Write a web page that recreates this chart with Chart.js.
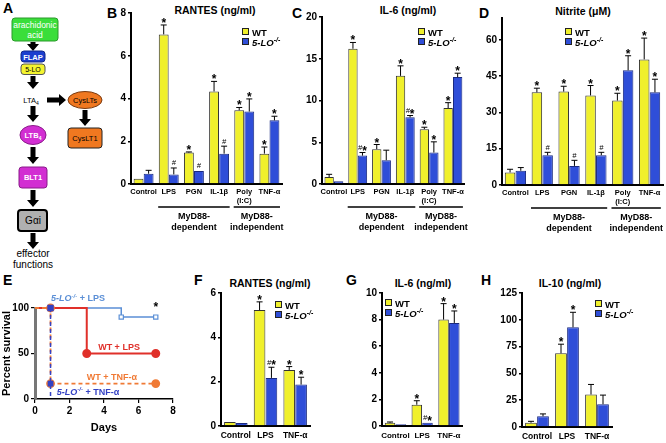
<!DOCTYPE html>
<html>
<head>
<meta charset="utf-8">
<script src="https://cdn.jsdelivr.net/npm/chart.js@4.4.1/dist/chart.umd.min.js"></script>
<style>
  body { margin: 0; background: #fff; }
  #fig { position: relative; width: 666px; height: 443px; overflow: hidden; font-family: "Liberation Sans", Arial, sans-serif; color: #000; }
  #fig canvas, #fig svg, #fig .letter, #fig .ttl { position: absolute; }
  .letter { font-weight: bold; font-size: 14px; line-height: 14px; }
  .ttl { font-weight: bold; font-size: 10.5px; line-height: 12px; width: 120px; text-align: center; white-space: nowrap; }
</style>
</head>
<body>
<div id="fig">
  <svg id="pathway" width="110" height="272" style="left:0;top:0"></svg>

  <div class="letter" style="left:3px;top:1px">A</div>
  <div class="letter" style="left:107px;top:6px">B</div>
  <div class="letter" style="left:292px;top:6px">C</div>
  <div class="letter" style="left:479px;top:6px">D</div>
  <div class="letter" style="left:3px;top:273px">E</div>
  <div class="letter" style="left:194px;top:273px">F</div>
  <div class="letter" style="left:346px;top:273px">G</div>
  <div class="letter" style="left:481px;top:273px">H</div>

  <div class="ttl" style="left:155px;top:4px">RANTES (ng/ml)</div>
  <div class="ttl" style="left:348px;top:4px">IL-6 (ng/ml)</div>
  <div class="ttl" style="left:523px;top:5px">Nitrite (μM)</div>
  <div class="ttl" style="left:210px;top:277px">RANTES (ng/ml)</div>
  <div class="ttl" style="left:363px;top:277px">IL-6 (ng/ml)</div>
  <div class="ttl" style="left:510px;top:277px">IL-10 (ng/ml)</div>

  <canvas id="chartB" width="180" height="242" style="left:105px;top:0"></canvas>
  <canvas id="chartC" width="176" height="242" style="left:292px;top:0"></canvas>
  <canvas id="chartD" width="190" height="242" style="left:476px;top:0"></canvas>
  <canvas id="chartE" width="190" height="181" style="left:0;top:262px"></canvas>
  <canvas id="chartF" width="115" height="158" style="left:200px;top:285px"></canvas>
  <canvas id="chartG" width="114" height="158" style="left:352px;top:285px"></canvas>
  <canvas id="chartH" width="178" height="158" style="left:488px;top:285px"></canvas>
</div>

<script>
// ---- data ----
var seriesNames = ['WT', '5-LO-/-'];

// panels B-D: stimulus categories
var stimCats = ['Control', 'LPS', 'PGN', 'IL-1β', ['Poly', '(I:C)'], 'TNF-α'];
var stimGroupLabels = [['MyD88-', 'dependent'], ['MyD88-', 'independent']];

// B: RANTES (ng/ml)
var rantesWT = [0.25, 7.0, 1.47, 4.33, 3.45, 1.42];
var rantesWTsem = [0, 0.44, 0.03, 0.47, 0.13, 0.31];
var rantesKO = [0.48, 0.45, 0.61, 1.42, 3.39, 2.98];
var rantesKOsem = [0.16, 0.30, 0, 0.35, 0.59, 0.19];
var rantesWTmarks = ['', '*', '*', '*', '*', '*'];
var rantesKOmarks = ['', '#', '#', '#', '*', '*'];

// C: IL-6 (ng/ml)
var il6WT = [0.84, 16.2, 4.17, 12.95, 6.57, 9.1];
var il6WTsem = [0.32, 0.75, 0.56, 1.2, 0.23, 0.64];
var il6KO = [0.32, 3.4, 2.85, 7.98, 3.77, 12.8];
var il6KOsem = [0, 0.37, 1.2, 0.22, 1.28, 0.47];
var il6WTmarks = ['', '*', '*', '*', '*', '*'];
var il6KOmarks = ['', '#*', '', '#*', '*', '*'];

// D: Nitrite (uM)
var nitWT = [5.2, 38.3, 38.6, 37.0, 34.9, 51.9];
var nitWTsem = [1.3, 1.7, 2.2, 4.1, 3.0, 8.8];
var nitKO = [5.9, 12.3, 7.9, 12.3, 47.4, 38.3];
var nitKOsem = [1.3, 1.2, 2.3, 1.2, 6.0, 5.4];
var nitWTmarks = ['', '*', '*', '*', '*', '*'];
var nitKOmarks = ['', '#', '#', '#', '*', '*'];

// E: survival
var survNames = ['5-LO-/- + TNF-α', 'WT + TNF-α', 'WT + LPS', '5-LO-/- + LPS'];
var koTnfDays = [0.9, 0.9, 0.9];
var koTnfSurv = [100, 17, 0];
var wtTnfDays = [0, 0.9, 0.9, 7];
var wtTnfSurv = [100, 100, 17, 17];
var wtLpsDays = [0, 3, 7];
var wtLpsSurv = [100, 50, 50];
var koLpsDays = [0.9, 5, 7];
var koLpsSurv = [100, 90, 90];

// F-H: in vivo
var vivoCats = ['Control', 'LPS', 'TNF-α'];
var fRantesWT = [0.18, 5.23, 2.53];
var fRantesWTsem = [0, 0.37, 0.15];
var fRantesKO = [0.14, 2.17, 1.87];
var fRantesKOsem = [0, 0.48, 0.33];
var fRantesWTmarks = ['', '*', '*'];
var fRantesKOmarks = ['', '#*', '*'];

var gIl6WT = [0.25, 1.6, 8.0];
var gIl6WTsem = [0.05, 0.3, 1.2];
var gIl6KO = [0.13, 0.25, 7.75];
var gIl6KOsem = [0, 0, 0.9];
var gIl6WTmarks = ['', '*', '*'];
var gIl6KOmarks = ['', '#*', '*'];

var hIl10WT = [4, 68.75, 30.3];
var hIl10WTsem = [1.3, 8.5, 9.4];
var hIl10KO = [10, 93, 21.25];
var hIl10KOsem = [2.2, 14, 8.5];
var hIl10WTmarks = ['', '*', ''];
var hIl10KOmarks = ['', '*', ''];

// ---- styles ----
var FONT = '"Liberation Sans", Arial, sans-serif';
var WT_COLOR = '#f0f02c';
var KO_COLOR = '#2f4ed8';
var survColors = ['#3442c4', '#f07a35', '#e0302a', '#5b8fd6'];

// split "5-LO-/- + LPS" into italic name, superscript and rest
function richParts(str, size, weight) {
  var w = weight || 'bold';
  var k = str.indexOf('-/-');
  if (k < 0) return [[str, w + ' ' + size + 'px ' + FONT, 0]];
  return [
    [str.slice(0, k), 'italic ' + w + ' ' + size + 'px ' + FONT, 0],
    ['-/-', 'italic ' + w + ' ' + Math.round(size * 0.7) + 'px ' + FONT, -size * 0.4],
    [str.slice(k + 3), w + ' ' + size + 'px ' + FONT, 0]
  ];
}

function drawRich(ctx, parts, x, y, center) {
  var total = 0;
  ctx.textAlign = 'left';
  parts.forEach(function(p) { ctx.font = p[1]; total += ctx.measureText(p[0]).width; });
  var cx = center ? x - total / 2 : x;
  parts.forEach(function(p) {
    ctx.font = p[1];
    ctx.fillText(p[0], cx, y + p[2]);
    cx += ctx.measureText(p[0]).width;
  });
}

// error bars (upper only) and significance marks
var errorBars = {
  id: 'errorBars',
  afterDatasetsDraw: function(chart) {
    var ctx = chart.ctx, ys = chart.scales.y;
    chart.data.datasets.forEach(function(ds, i) {
      var meta = chart.getDatasetMeta(i);
      meta.data.forEach(function(bar, j) {
        var err = ds.errors[j] || 0;
        var yt = ys.getPixelForValue(ds.data[j] + err);
        ctx.save();
        ctx.strokeStyle = '#000';
        ctx.lineWidth = 1;
        if (err) {
          ctx.beginPath();
          ctx.moveTo(bar.x, bar.y);
          ctx.lineTo(bar.x, yt);
          ctx.moveTo(bar.x - 3, yt);
          ctx.lineTo(bar.x + 3, yt);
          ctx.stroke();
        }
        var m = ds.marks[j];
        if (m) {
          ctx.fillStyle = '#000';
          ctx.textBaseline = 'alphabetic';
          var parts = m.split('').map(function(c) {
            return c === '#' ? [c, 'italic 7.5px ' + FONT, -1.5] : [c, 'bold 12px ' + FONT, 3];
          });
          drawRich(ctx, parts, bar.x, yt - 1, true);
        }
        ctx.restore();
      });
    });
  }
};

// legend and group brackets
var panelDeco = {
  id: 'panelDeco',
  afterDraw: function(chart, args, opts) {
    var ctx = chart.ctx, a = chart.chartArea, xs = chart.scales.x;
    ctx.save();
    if (opts.legend) {
      var lx = a.left + opts.legend.x, ly = a.top + opts.legend.y;
      chart.data.datasets.forEach(function(ds, i) {
        var yy = ly + i * 10;
        ctx.fillStyle = ds.backgroundColor;
        ctx.fillRect(lx, yy, 7, 7);
        ctx.strokeStyle = '#222';
        ctx.lineWidth = 1;
        ctx.strokeRect(lx + 0.5, yy + 0.5, 6, 6);
        ctx.fillStyle = '#000';
        ctx.textBaseline = 'alphabetic';
        drawRich(ctx, richParts(ds.label, 9.5), lx + 10, yy + 7.5, false);
      });
    }
    if (opts.groups) {
      var half = (xs.getPixelForValue(1) - xs.getPixelForValue(0)) * 0.42;
      opts.groups.forEach(function(g) {
        var x1 = xs.getPixelForValue(g.from) - half;
        var x2 = xs.getPixelForValue(g.to) + half;
        var yl = a.bottom + 23;
        ctx.strokeStyle = '#000';
        ctx.lineWidth = 1.5;
        ctx.beginPath();
        ctx.moveTo(x1, yl);
        ctx.lineTo(x2, yl);
        ctx.stroke();
        ctx.fillStyle = '#000';
        ctx.font = 'bold 9px ' + FONT;
        ctx.textAlign = 'center';
        ctx.textBaseline = 'middle';
        g.label.forEach(function(t, k) {
          ctx.fillText(t, (x1 + x2) / 2, yl + 10 + k * 11);
        });
      });
    }
    ctx.restore();
  }
};

function makeBars(id, cats, wt, wtSem, wtMarks, ko, koSem, koMarks, cfg) {
  var tickFont = { family: FONT, weight: 'bold', size: cfg.xFont, lineHeight: 1.15 };
  return new Chart(document.getElementById(id), {
    type: 'bar',
    data: {
      labels: cats,
      datasets: [
        { label: seriesNames[0], data: wt, errors: wtSem, marks: wtMarks,
          backgroundColor: WT_COLOR, borderColor: '#333', borderWidth: 1,
          categoryPercentage: 0.8, barPercentage: 0.98 },
        { label: seriesNames[1], data: ko, errors: koSem, marks: koMarks,
          backgroundColor: KO_COLOR, borderColor: '#1a2a80', borderWidth: 1,
          categoryPercentage: 0.8, barPercentage: 0.98 }
      ]
    },
    options: {
      responsive: false,
      animation: false,
      devicePixelRatio: 1,
      layout: { padding: cfg.pad },
      plugins: {
        legend: { display: false },
        tooltip: { enabled: false },
        panelDeco: { legend: cfg.legend, groups: cfg.groups }
      },
      scales: {
        x: {
          grid: { display: false, drawTicks: false, tickLength: 0 },
          border: { color: '#000', width: 2 },
          ticks: { font: tickFont, color: '#000', padding: cfg.xPad, maxRotation: 0, autoSkip: false },
          afterFit: function(s) { s.height = cfg.xh; }
        },
        y: {
          min: 0,
          max: cfg.max,
          ticks: {
            stepSize: cfg.step,
            font: { family: FONT, weight: 'bold', size: 10 },
            color: '#000',
            padding: 2,
            callback: function(v) { return v % cfg.step === 0 ? v : null; }
          },
          grid: { drawOnChartArea: false, tickLength: 3, color: '#000', lineWidth: 1.5 },
          border: { color: '#000', width: 2 },
          afterFit: function(s) { s.width = cfg.yw; }
        }
      }
    },
    plugins: [errorBars, panelDeco]
  });
}

var stimGroups = [
  { from: 1, to: 3, label: stimGroupLabels[0] },
  { from: 4, to: 5, label: stimGroupLabels[1] }
];

makeBars('chartB', stimCats, rantesWT, rantesWTsem, rantesWTmarks, rantesKO, rantesKOsem, rantesKOmarks,
  { max: 8, step: 2, yw: 26, xh: 58, xFont: 7.5, xPad: 4, pad: { top: 13, right: 3, left: 0, bottom: 0 },
    legend: { x: 111, y: 15 }, groups: stimGroups });

makeBars('chartC', stimCats, il6WT, il6WTsem, il6WTmarks, il6KO, il6KOsem, il6KOmarks,
  { max: 20, step: 5, yw: 30, xh: 58, xFont: 7.5, xPad: 4, pad: { top: 17, right: 3, left: 0, bottom: 0 },
    legend: { x: 96, y: 11 }, groups: stimGroups });

makeBars('chartD', stimCats, nitWT, nitWTsem, nitWTmarks, nitKO, nitKOsem, nitKOmarks,
  { max: 69, step: 15, yw: 26, xh: 57, xFont: 7.5, xPad: 4, pad: { top: 18, right: 3, left: 0, bottom: 0 },
    legend: { x: 63, y: 10 }, groups: stimGroups });

makeBars('chartF', vivoCats, fRantesWT, fRantesWTsem, fRantesWTmarks, fRantesKO, fRantesKOsem, fRantesKOmarks,
  { max: 6, step: 2, yw: 21, xh: 17, xFont: 8.5, xPad: 5, pad: { top: 7, right: 5, left: 0, bottom: 0 },
    legend: { x: 54, y: 8 } });

makeBars('chartG', vivoCats, gIl6WT, gIl6WTsem, gIl6WTmarks, gIl6KO, gIl6KOsem, gIl6KOmarks,
  { max: 10, step: 2, yw: 30, xh: 17, xFont: 8, xPad: 5, pad: { top: 8, right: 3, left: 0, bottom: 0 },
    legend: { x: 3, y: 6 } });

makeBars('chartH', vivoCats, hIl10WT, hIl10WTsem, hIl10WTmarks, hIl10KO, hIl10KOsem, hIl10KOmarks,
  { max: 125, step: 25, yw: 34, xh: 16, xFont: 8.5, xPad: 5, pad: { top: 8, right: 54, left: 0, bottom: 0 },
    legend: { x: 73, y: 7 } });

// ---- E: survival ----
function toPoints(days, surv) {
  return days.map(function(d, i) { return { x: d, y: surv[i] }; });
}

var survLabels = {
  id: 'survLabels',
  afterDatasetsDraw: function(chart, args, opts) {
    var ctx = chart.ctx, xs = chart.scales.x, ys = chart.scales.y;
    ctx.save();
    ctx.textBaseline = 'alphabetic';
    opts.items.forEach(function(it) {
      ctx.fillStyle = it.color;
      drawRich(ctx, richParts(it.text, it.size || 9), xs.getPixelForValue(it.x), ys.getPixelForValue(it.y), true);
    });
    ctx.restore();
  }
};

new Chart(document.getElementById('chartE'), {
  type: 'line',
  data: {
    datasets: [
      { label: survNames[0], data: toPoints(koTnfDays, koTnfSurv), stepped: 'before', clip: false,
        borderColor: survColors[0], borderWidth: 1.5, borderDash: [4, 3],
        pointStyle: 'rect', pointRadius: [3.5, 3, 0],
        pointBackgroundColor: survColors[0], pointBorderColor: survColors[0] },
      { label: survNames[1], data: toPoints(wtTnfDays, wtTnfSurv), stepped: 'before', clip: false,
        borderColor: survColors[1], borderWidth: 1.8, borderDash: [4, 3],
        pointStyle: 'circle', pointRadius: [0, 3.5, 3.5, 3.5],
        pointBackgroundColor: survColors[1], pointBorderColor: survColors[1] },
      { label: survNames[2], data: toPoints(wtLpsDays, wtLpsSurv), stepped: 'before', clip: false,
        borderColor: survColors[2], borderWidth: 2,
        pointStyle: 'circle', pointRadius: [0, 3.5, 3.5],
        pointBackgroundColor: survColors[2], pointBorderColor: survColors[2] },
      { label: survNames[3], data: toPoints(koLpsDays, koLpsSurv), stepped: 'before', clip: false,
        borderColor: survColors[3], borderWidth: 1.5,
        pointStyle: 'rect', pointRadius: [0, 3, 3], pointBorderWidth: 1.2,
        pointBackgroundColor: '#fff', pointBorderColor: survColors[3] }
    ]
  },
  options: {
    responsive: false,
    animation: false,
    devicePixelRatio: 1,
    layout: { padding: { top: 46, right: 17, left: 0, bottom: 8 } },
    plugins: {
      legend: { display: false },
      tooltip: { enabled: false },
      survLabels: {
        items: [
          { text: survNames[3], x: 2.49, y: 107.5, color: survColors[3] },
          { text: '*', x: 7, y: 97, color: '#000', size: 12 },
          { text: survNames[2], x: 4.87, y: 54, color: survColors[2] },
          { text: survNames[1], x: 4.46, y: 21, color: survColors[1] },
          { text: survNames[0], x: 3.07, y: 4.4, color: survColors[0] }
        ]
      }
    },
    scales: {
      x: {
        type: 'linear', min: 0, max: 8,
        ticks: { stepSize: 2, font: { family: FONT, weight: 'bold', size: 10 }, color: '#000', padding: 2 },
        grid: { drawOnChartArea: false, tickLength: 4, color: '#000', lineWidth: 1.2 },
        border: { color: '#000', width: 1.5 },
        title: { display: true, text: 'Days', font: { family: FONT, weight: 'bold', size: 11 }, color: '#000', padding: 0 },
        afterFit: function(s) { s.height = 36; }
      },
      y: {
        min: 0, max: 100,
        ticks: { stepSize: 50, font: { family: FONT, weight: 'bold', size: 10 }, color: '#000', padding: 2 },
        grid: { drawOnChartArea: false, tickLength: 4, color: '#000', lineWidth: 1.2 },
        border: { color: '#777', width: 3 },
        title: { display: true, text: 'Percent survival', font: { family: FONT, weight: 'bold', size: 11 }, color: '#000', padding: 0 },
        afterFit: function(s) { s.width = 35; }
      }
    }
  },
  plugins: [survLabels]
});

// ---- A: pathway diagram ----
(function() {
  var svg = document.getElementById('pathway');
  var html = '';
  function arrowDown(x, y1, y2) {
    var p = [[x - 2.5, y1], [x + 2.5, y1], [x + 2.5, y2 - 7], [x + 6, y2 - 7], [x, y2], [x - 6, y2 - 7], [x - 2.5, y2 - 7]];
    html += '<polygon fill="#000" points="' + p.map(function(q) { return q.join(','); }).join(' ') + '"/>';
  }
  function arrowRight(x1, x2, y) {
    var p = [[x1, y - 2.5], [x2 - 7, y - 2.5], [x2 - 7, y - 6], [x2, y], [x2 - 7, y + 6], [x2 - 7, y + 2.5], [x1, y + 2.5]];
    html += '<polygon fill="#000" points="' + p.map(function(q) { return q.join(','); }).join(' ') + '"/>';
  }
  function box(x, y, w, h, fill, stroke, sw) {
    html += '<rect x="' + x + '" y="' + y + '" width="' + w + '" height="' + h + '" rx="3" fill="' + fill + '" stroke="' + stroke + '" stroke-width="' + (sw || 1) + '"/>';
  }
  function txt(x, y, s, size, color, weight) {
    html += '<text x="' + x + '" y="' + y + '" text-anchor="middle" font-family="Liberation Sans, Arial, sans-serif" font-size="' + size + '" font-weight="' + (weight || 'normal') + '" fill="' + color + '">' + s + '</text>';
  }
  box(12, 18, 46, 23, '#3ade3a', '#2a9a2a');
  txt(35, 28, 'arachidonic', 8.5, '#fff');
  txt(35, 38, 'acid', 8.5, '#fff');
  arrowDown(33, 42, 51);
  box(21, 51, 24, 11, '#1c3fcf', '#10288a');
  txt(33, 60, 'FLAP', 7.5, '#fff', 'bold');
  box(21, 64, 24, 10.5, '#f4f430', '#555');
  txt(33, 72, '5-LO', 7, '#000');
  arrowDown(33, 76, 89);
  html += '<text x="31" y="103" text-anchor="middle" font-family="Liberation Sans, Arial, sans-serif" font-size="7.5">LTA<tspan font-size="5" dy="2">4</tspan></text>';
  arrowRight(47, 66, 100);
  html += '<ellipse cx="85" cy="100" rx="17" ry="8.5" fill="#f07820" stroke="#7a3a10" stroke-width="1"/>';
  txt(85, 103, 'CysLTs', 7.5, '#000');
  arrowDown(85, 110, 126);
  box(68, 128, 34, 20, '#f07820', '#222');
  txt(85, 141, 'CysLT1', 7.5, '#000');
  arrowDown(33, 106, 122);
  html += '<ellipse cx="33" cy="135" rx="13" ry="9.5" fill="#d22ed2" stroke="#8a1a8a" stroke-width="1"/>';
  html += '<text x="33" y="138" text-anchor="middle" font-family="Liberation Sans, Arial, sans-serif" font-size="7.5" font-weight="bold" fill="#fff">LTB<tspan font-size="5" dy="2">4</tspan></text>';
  arrowDown(33, 147, 164);
  box(19, 167, 28, 21, '#d22ed2', '#8a1a8a');
  txt(33, 180, 'BLT1', 7.5, '#fff', 'bold');
  arrowDown(33, 190, 207);
  box(18, 210, 29, 21, '#b0b0b0', '#000', 2);
  txt(33, 224, 'Gαi', 10, '#000');
  arrowDown(33, 233, 249);
  txt(33, 257, 'effector', 10, '#000');
  txt(33, 268, 'functions', 10, '#000');
  svg.innerHTML = html;
})();
</script>
</body>
</html>
